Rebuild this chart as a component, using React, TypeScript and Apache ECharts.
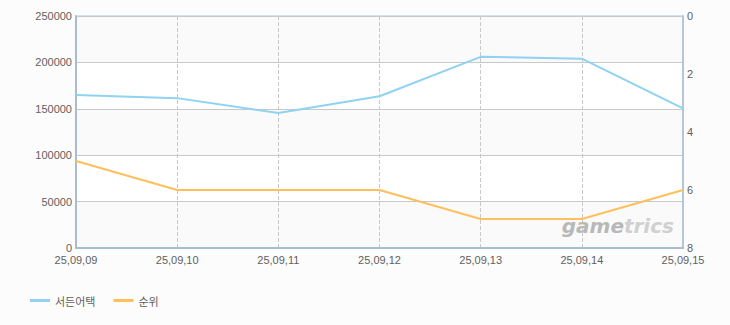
import React, { useEffect, useRef } from "react";
import * as echarts from "echarts";

const categories = ["25,09,09", "25,09,10", "25,09,11", "25,09,12", "25,09,13", "25,09,14", "25,09,15"];
const suddenAttack = [165000, 161500, 145500, 163500, 206000, 204000, 150500];
const rank = [5, 6, 6, 6, 7, 7, 6];
const seriesNames = ["서든어택", "순위"];

const font = "'Liberation Sans', Arial, sans-serif";

export default function App() {
  const ref = useRef<HTMLDivElement>(null);
  useEffect(() => {
    if (!ref.current) return;
    const chart = echarts.init(ref.current, null, { renderer: "svg" });
    chart.setOption({
      animation: false,
      backgroundColor: "#fcfcfc",
      grid: {
        left: 76,
        right: 47,
        top: 16,
        bottom: 77,
        show: true,
        borderColor: "#b4c6d8",
        borderWidth: 1,
        backgroundColor: "transparent",
      },
      legend: {
        left: 25,
        bottom: 14,
        itemWidth: 20,
        itemHeight: 3,
        itemGap: 18,
        icon: "rect",
        textStyle: { color: "#5f5f5f", fontSize: 11, fontFamily: "'Noto Sans CJK KR', sans-serif" },
        data: seriesNames,
      },
      xAxis: {
        type: "category",
        data: categories,
        boundaryGap: false,
        axisLine: { lineStyle: { color: "#a9bccf", width: 2 } },
        axisTick: { show: false },
        axisLabel: { color: "#5f5f5f", fontSize: 11, fontFamily: font, margin: 6 },
        splitLine: { show: true, lineStyle: { color: "#c8c8c8", type: "dashed", width: 1 } },
      },
      yAxis: [
        {
          type: "value",
          min: 0,
          max: 250000,
          interval: 50000,
          axisLine: { show: true, lineStyle: { color: "#a9bccf", width: 2 } },
          axisTick: { show: false },
          axisLabel: {
            color: "#5f5f5f",
            fontSize: 11,
            fontFamily: font,
            margin: 4,
            formatter: (v: number) => String(v),
          },
          splitLine: { show: true, lineStyle: { color: "#c8c8c8", width: 1 } },
          splitArea: { show: true, areaStyle: { color: ["#fafafa", "#ffffff"] } },
        },
        {
          type: "value",
          min: 0,
          max: 8,
          interval: 2,
          inverse: true,
          position: "right",
          axisLine: { show: true, lineStyle: { color: "#b4c6d8", width: 2 } },
          axisTick: { show: false },
          axisLabel: { color: "#5f5f5f", fontSize: 11, fontFamily: font, margin: 4 },
          splitLine: { show: false },
        },
      ],
      graphic: [
        {
          type: "text",
          right: 56,
          top: 216,
          z: 1,
          style: {
            text: "{a|game}{b|trics}",
            rich: {
              a: { fontSize: 20, fontWeight: "bold", fontStyle: "italic", fill: "#b8b8b8", fontFamily: "'DejaVu Sans', sans-serif" },
              b: { fontSize: 20, fontWeight: "bold", fontStyle: "italic", fill: "#d0d0d0", fontFamily: "'DejaVu Sans', sans-serif" },
            },
          },
        },
      ],
      series: [
        {
          name: seriesNames[0],
          type: "line",
          data: suddenAttack,
          yAxisIndex: 0,
          symbol: "none",
          lineStyle: { color: "#8fd2f2", width: 2 },
          itemStyle: { color: "#8fd2f2" },
          z: 3,
        },
        {
          name: seriesNames[1],
          type: "line",
          data: rank,
          yAxisIndex: 1,
          symbol: "none",
          lineStyle: { color: "#ffbf5c", width: 2 },
          itemStyle: { color: "#ffbf5c" },
          z: 3,
        },
      ],
    });
    return () => chart.dispose();
  }, []);
  return (
    <div
      ref={ref}
      style={{ position: "fixed", left: 0, top: 0, width: 730, height: 325 }}
    />
  );
}
